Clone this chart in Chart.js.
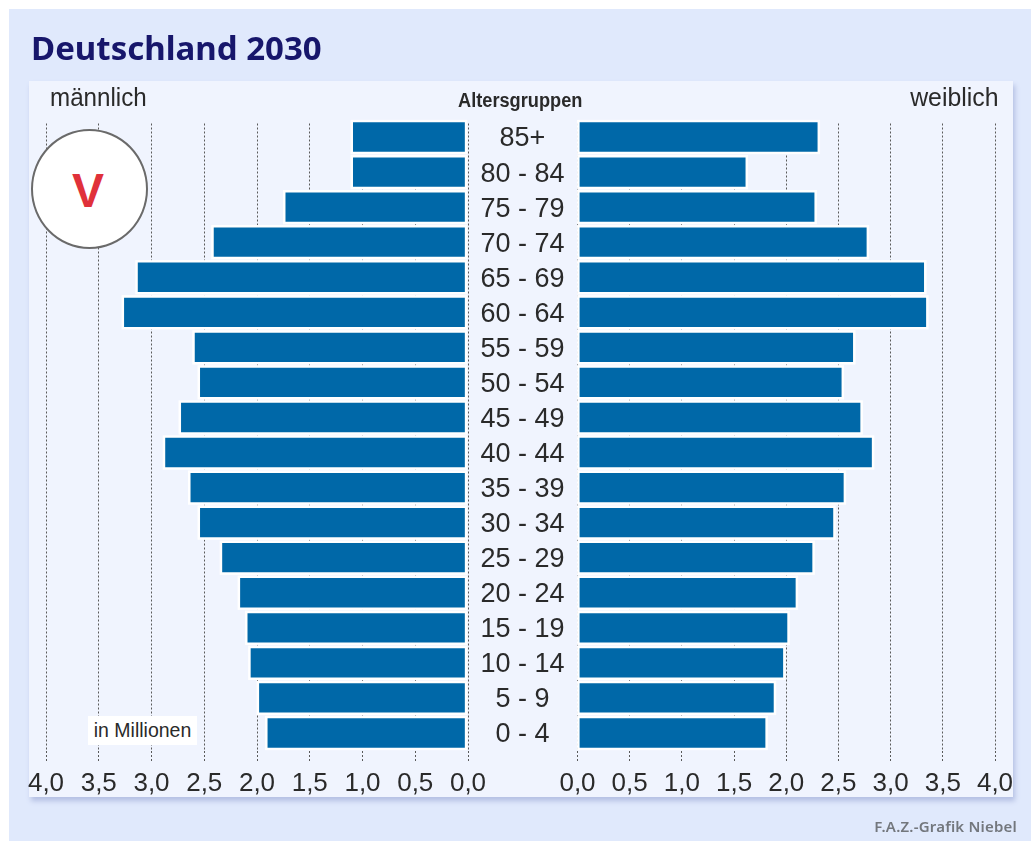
<!DOCTYPE html>
<html lang="de">
<head>
<meta charset="utf-8">
<title>Deutschland 2030</title>
<script src="https://cdn.jsdelivr.net/npm/chart.js@4"></script>
<style>
html,body{margin:0;padding:0;background:#fff;width:1031px;height:841px;overflow:hidden}
#wrap{position:absolute;left:0;top:0;width:1031px;height:841px;filter:blur(0.55px)}
#outer{position:absolute;left:9px;top:9px;width:1022px;height:832px;background:#e0e9fc}
#inner{position:absolute;left:29px;top:81px;width:984px;height:716px;background:#f0f4fe;box-shadow:2px 4px 5px #b4bfe3}
canvas{position:absolute;left:0;top:0}
.t{position:absolute;white-space:nowrap;font-family:"Liberation Sans",sans-serif;color:#2a2a2a;line-height:1}
#title{left:31px;top:31px;font:700 33px "Noto Sans",sans-serif;line-height:1;color:#17166b}
#m{left:50px;top:84px;font-size:26px;transform:scaleX(.93);transform-origin:left top}
#w{right:33px;top:84px;font-size:26px;transform:scaleX(.955);transform-origin:right top}
#a{left:458px;top:90px;font-size:20px;font-weight:700;transform:scaleX(.91);transform-origin:left top}
#circle{position:absolute;left:31px;top:129px;width:113px;height:116px;border:2px solid #6a6a6a;border-radius:50%;background:#fff}
#v{left:72px;top:167px;font-size:48px;font-weight:700;color:#e0313a}
#mio{position:absolute;left:88px;top:716px;width:109px;height:29px;background:#fff;text-align:center;font:19.5px/29px "Liberation Sans",sans-serif;color:#2a2a2a;white-space:nowrap}
#src{right:14px;top:819px;font:600 15px "Noto Sans",sans-serif;line-height:1;color:#73777d;letter-spacing:.2px}
</style>
</head>
<body>
<div id="wrap">
<div id="outer"></div>
<div id="inner"></div>
<canvas id="left" width="1031" height="841"></canvas>
<canvas id="right" width="1031" height="841"></canvas>
<div class="t" id="title">Deutschland 2030</div>
<div class="t" id="m">männlich</div>
<div class="t" id="w">weiblich</div>
<div class="t" id="a">Altersgruppen</div>
<div id="circle"></div>
<div class="t" id="v">V</div>
<div id="mio">in Millionen</div>
<div class="t" id="src">F.A.Z.-Grafik Niebel</div>
</div>
<script>
const ageGroups = ["85+","80 - 84","75 - 79","70 - 74","65 - 69","60 - 64","55 - 59","50 - 54","45 - 49","40 - 44","35 - 39","30 - 34","25 - 29","20 - 24","15 - 19","10 - 14","5 - 9","0 - 4"];
const maleValues = [1.09,1.09,1.73,2.41,3.13,3.26,2.59,2.54,2.72,2.87,2.63,2.54,2.33,2.16,2.09,2.06,1.98,1.90];
const femaleValues = [2.30,1.61,2.27,2.77,3.32,3.34,2.64,2.53,2.71,2.82,2.55,2.45,2.25,2.09,2.01,1.97,1.88,1.80];

const BAR = '#0068a8', GRID = '#5a5a5a', INK = '#2a2a2a', PANEL = '#f0f4fe';
const halo = {
  id: 'halo',
  beforeDatasetsDraw(chart) {
    const c = chart.ctx, a = chart.chartArea;
    c.save();
    c.fillStyle = PANEL;
    c.fillRect(a.left - 2, a.top - 1, a.right - a.left + 4, 3.5);
    c.fillStyle = '#ffffff';
    chart.getDatasetMeta(0).data.forEach(b => {
      const p = b.getProps(['x','y','base','height'], true);
      const l = Math.min(p.x, p.base), r = Math.max(p.x, p.base);
      c.fillRect(l - 2.5, p.y - p.height / 2 - 2.5, r - l + 5, p.height + 5);
    });
    c.restore();
  }
};
function xScale(reverse) {
  return {
    type: 'linear', min: 0, max: 4, reverse,
    afterFit(s) { s.height = 50; },
    border: { display: false, dash: [2,2] },
    grid: { color: GRID, lineWidth: 1, tickLength: 12, tickColor: GRID, tickBorderDash: [2,2], drawTicks: true },
    ticks: { stepSize: 0.5, autoSkip: false, maxRotation: 0, padding: 6, color: INK,
      font: { family: '"Liberation Sans"', size: 26 },
      callback: v => v.toFixed(1).replace('.', ',') }
  };
}
function base(id, values, baseVal, scales, padding) {
  return new Chart(document.getElementById(id), {
    type: 'bar',
    data: { labels: ageGroups, datasets: [{ data: values, base: baseVal, backgroundColor: BAR, borderWidth: 0, barPercentage: 1, categoryPercentage: 0.836 }] },
    options: {
      indexAxis: 'y', responsive: false, animation: false,
      layout: { padding },
      plugins: { legend: { display: false }, tooltip: { enabled: false }, title: { display: false } },
      scales
    },
    plugins: [halo]
  });
}
base('left', maleValues, 0.03, {
  x: xScale(true),
  y: { type: 'category', display: false }
}, { left: 46, right: 563, top: 119.5, bottom: 40.5 });
base('right', femaleValues, 0.02, {
  x: xScale(false),
  y: { type: 'category', afterFit(s) { s.width = 109.5; },
    border: { display: false }, grid: { display: false, drawTicks: false },
    ticks: { crossAlign: 'center', padding: 13, labelOffset: 2, color: INK, autoSkip: false, font: { family: '"Liberation Sans"', size: 27 } } }
}, { left: 468, right: 36, top: 119.5, bottom: 40.5 });
</script>
</body>
</html>
